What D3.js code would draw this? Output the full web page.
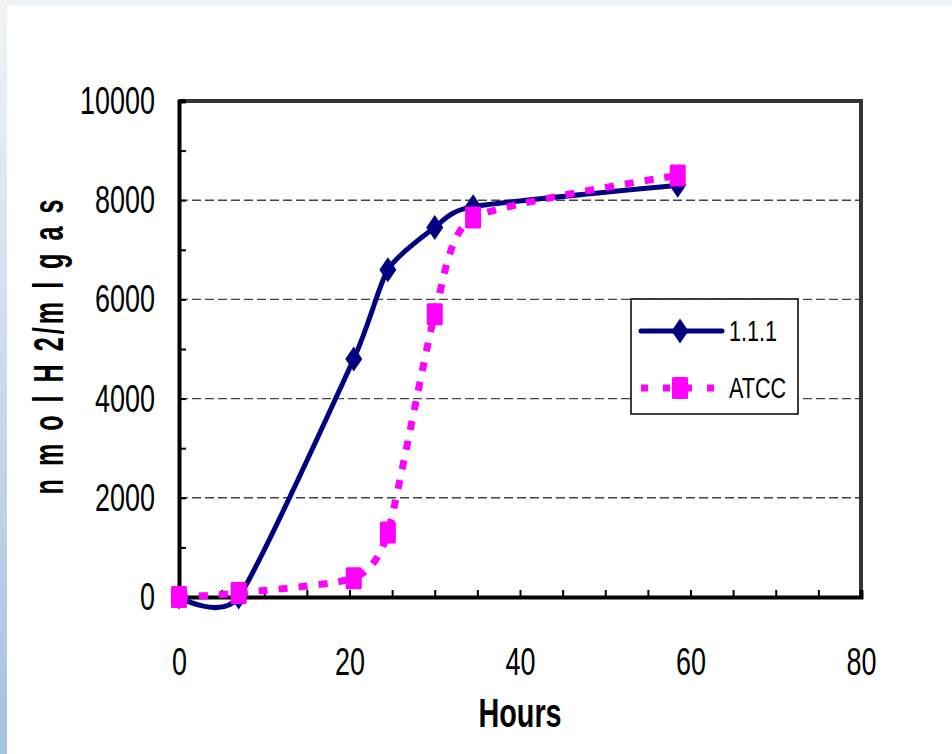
<!DOCTYPE html>
<html lang="en">
<head>
    <meta charset="UTF-8">
    <title>nmol H2/ml gas</title>
    <style>
        body { margin: 0; background: #fff; }
        svg { display: block; }
    </style>
</head>
<body>
<script src="https://d3js.org/d3.v7.min.js"></script>
<script>
    const width = 952
    const height = 754

    // data
    const hours = [0, 7, 20.5, 24.5, 30, 34.5, 58.5]
    const strain111 = [0, 0, 4800, 6600, 7450, 7870, 8300]
    const strainATCC = [0, 80, 380, 1300, 5700, 7650, 8500]
    const seriesNames = ['1.1.1', 'ATCC']
    const xLabelTicks = [0, 20, 40, 60, 80]
    const yLabelTicks = [0, 2000, 4000, 6000, 8000, 10000]
    const gridValues = [2000, 4000, 6000, 8000]

    const navy = '#000080'
    const magenta = '#ff00ff'
    const squeeze = 0.71 // text in the picture is narrowed

    const x = d3.scaleLinear().domain([0, 80]).range([179, 861])
    const y = d3.scaleLinear().domain([0, 10000]).range([597, 101])

    const svg = d3.select('body').append('svg')
        .attr('width', width)
        .attr('height', height)
        .style('font-family', '"Liberation Sans", Arial, sans-serif')

    // slide background strips
    const defs = svg.append('defs')
    const grad = defs.append('linearGradient')
        .attr('id', 'side').attr('x1', 0).attr('y1', 0).attr('x2', 0).attr('y2', 1)
    grad.append('stop').attr('offset', '0%').attr('stop-color', '#f0f4f9')
    grad.append('stop').attr('offset', '100%').attr('stop-color', '#a6c1de')
    svg.append('rect').attr('x', 0).attr('y', 0).attr('width', width).attr('height', 5).attr('fill', '#eef3f8')
    svg.append('rect').attr('x', 0).attr('y', 0).attr('width', 7).attr('height', height).attr('fill', 'url(#side)')

    // grid
    svg.append('g')
        .selectAll('line')
        .data(gridValues)
        .join('line')
        .attr('x1', x(0)).attr('x2', x(80))
        .attr('y1', d => y(d)).attr('y2', d => y(d))
        .attr('stroke', '#444')
        .attr('stroke-width', 1.4)
        .attr('stroke-dasharray', '9,4')

    // top and right frame
    svg.append('path')
        .attr('d', `M${x(0)},${y(10000)}H${x(80)}V${y(0)}`)
        .attr('fill', 'none')
        .attr('stroke', '#333')
        .attr('stroke-width', 4)

    // axes
    const xAxis = d3.axisBottom(x)
        .tickValues(d3.range(0, 81, 5))
        .tickSize(-7)
        .tickFormat(d => xLabelTicks.includes(d) ? d : '')
    const gx = svg.append('g')
        .attr('transform', `translate(0,${y(0)})`)
        .call(xAxis)
    gx.select('.domain').attr('stroke', '#000').attr('stroke-width', 4)
    gx.selectAll('.tick line').attr('stroke', '#000').attr('stroke-width', 2)
    gx.selectAll('.tick text')
        .attr('y', 78).attr('dy', null)
        .attr('font-size', 38)
        .attr('fill', '#000')
        .attr('transform', `scale(${squeeze},1)`)

    const yAxis = d3.axisLeft(y)
        .tickValues(d3.range(0, 10001, 1000))
        .tickSize(-7)
        .tickFormat(d => yLabelTicks.includes(d) ? d : '')
    const gy = svg.append('g')
        .attr('transform', `translate(${x(0)},0)`)
        .call(yAxis)
    gy.select('.domain').attr('stroke', '#000').attr('stroke-width', 4)
    gy.selectAll('.tick line').attr('stroke', '#000').attr('stroke-width', 2)
    gy.selectAll('.tick text')
        .attr('x', -24 / squeeze)
        .attr('dy', '0.33em')
        .attr('font-size', 38)
        .attr('fill', '#000')
        .attr('transform', `scale(${squeeze},1)`)

    // axis titles
    svg.append('text')
        .attr('transform', `translate(520,727) scale(0.72,1)`)
        .attr('text-anchor', 'middle')
        .attr('font-size', 40)
        .attr('font-weight', 'bold')
        .text('Hours')

    // the y title is narrow along its own direction
    const yTitleLen = 295
    const yTitleSqueeze = 0.6
    svg.append('text')
        .attr('transform', `translate(63,347) rotate(-90) scale(${yTitleSqueeze},1)`)
        .attr('text-anchor', 'middle')
        .attr('font-size', 42)
        .attr('font-weight', 'bold')
        .attr('textLength', yTitleLen / yTitleSqueeze)
        .attr('lengthAdjust', 'spacing')
        .text('n m o l H 2/m l g a s')

    // series
    const line = d3.line()
        .x(d => x(d[0]))
        .y(d => y(d[1]))
        .curve(d3.curveCardinal.tension(0.4))

    const pts111 = hours.map((h, i) => [h, strain111[i]])
    const ptsATCC = hours.map((h, i) => [h, strainATCC[i]])

    const diamond = 'M0,-12.5L8.5,0L0,12.5L-8.5,0Z'

    svg.append('path')
        .attr('d', line(pts111))
        .attr('fill', 'none')
        .attr('stroke', navy)
        .attr('stroke-width', 5)
        .attr('stroke-linejoin', 'round')

    svg.append('g')
        .selectAll('path')
        .data(pts111)
        .join('path')
        .attr('d', diamond)
        .attr('transform', d => `translate(${x(d[0])},${y(d[1])})`)
        .attr('fill', navy)

    svg.append('path')
        .attr('d', line(ptsATCC))
        .attr('fill', 'none')
        .attr('stroke', magenta)
        .attr('stroke-width', 7)
        .attr('stroke-dasharray', '9,11')

    svg.append('g')
        .selectAll('rect')
        .data(ptsATCC)
        .join('rect')
        .attr('x', d => x(d[0]) - 8)
        .attr('y', d => y(d[1]) - 11)
        .attr('width', 16)
        .attr('height', 22)
        .attr('rx', 1.5)
        .attr('fill', magenta)

    // legend
    const legend = svg.append('g')
    legend.append('rect')
        .attr('x', 631).attr('y', 299)
        .attr('width', 167).attr('height', 115)
        .attr('fill', '#fff')
        .attr('stroke', '#000')
        .attr('stroke-width', 1.5)

    const rows = [
        { name: seriesNames[0], y: 331, color: navy },
        { name: seriesNames[1], y: 388, color: magenta }
    ]
    rows.forEach((r, i) => {
        legend.append('line')
            .attr('x1', 641).attr('x2', 722)
            .attr('y1', r.y).attr('y2', r.y)
            .attr('stroke', r.color)
            .attr('stroke-width', i === 0 ? 5 : 7)
            .attr('stroke-linecap', i === 0 ? 'round' : 'butt')
            .attr('stroke-dasharray', i === 0 ? null : '7,15')
        if (i === 0) {
            legend.append('path')
                .attr('d', diamond)
                .attr('transform', `translate(680,${r.y})`)
                .attr('fill', navy)
        } else {
            legend.append('rect')
                .attr('x', 672).attr('y', r.y - 11)
                .attr('width', 16).attr('height', 22)
                .attr('rx', 1.5)
                .attr('fill', magenta)
        }
        legend.append('text')
            .attr('transform', `translate(729,${r.y + 10}) scale(0.72,1)`)
            .attr('font-size', 30)
            .text(r.name)
    })
</script>
</body>
</html>
